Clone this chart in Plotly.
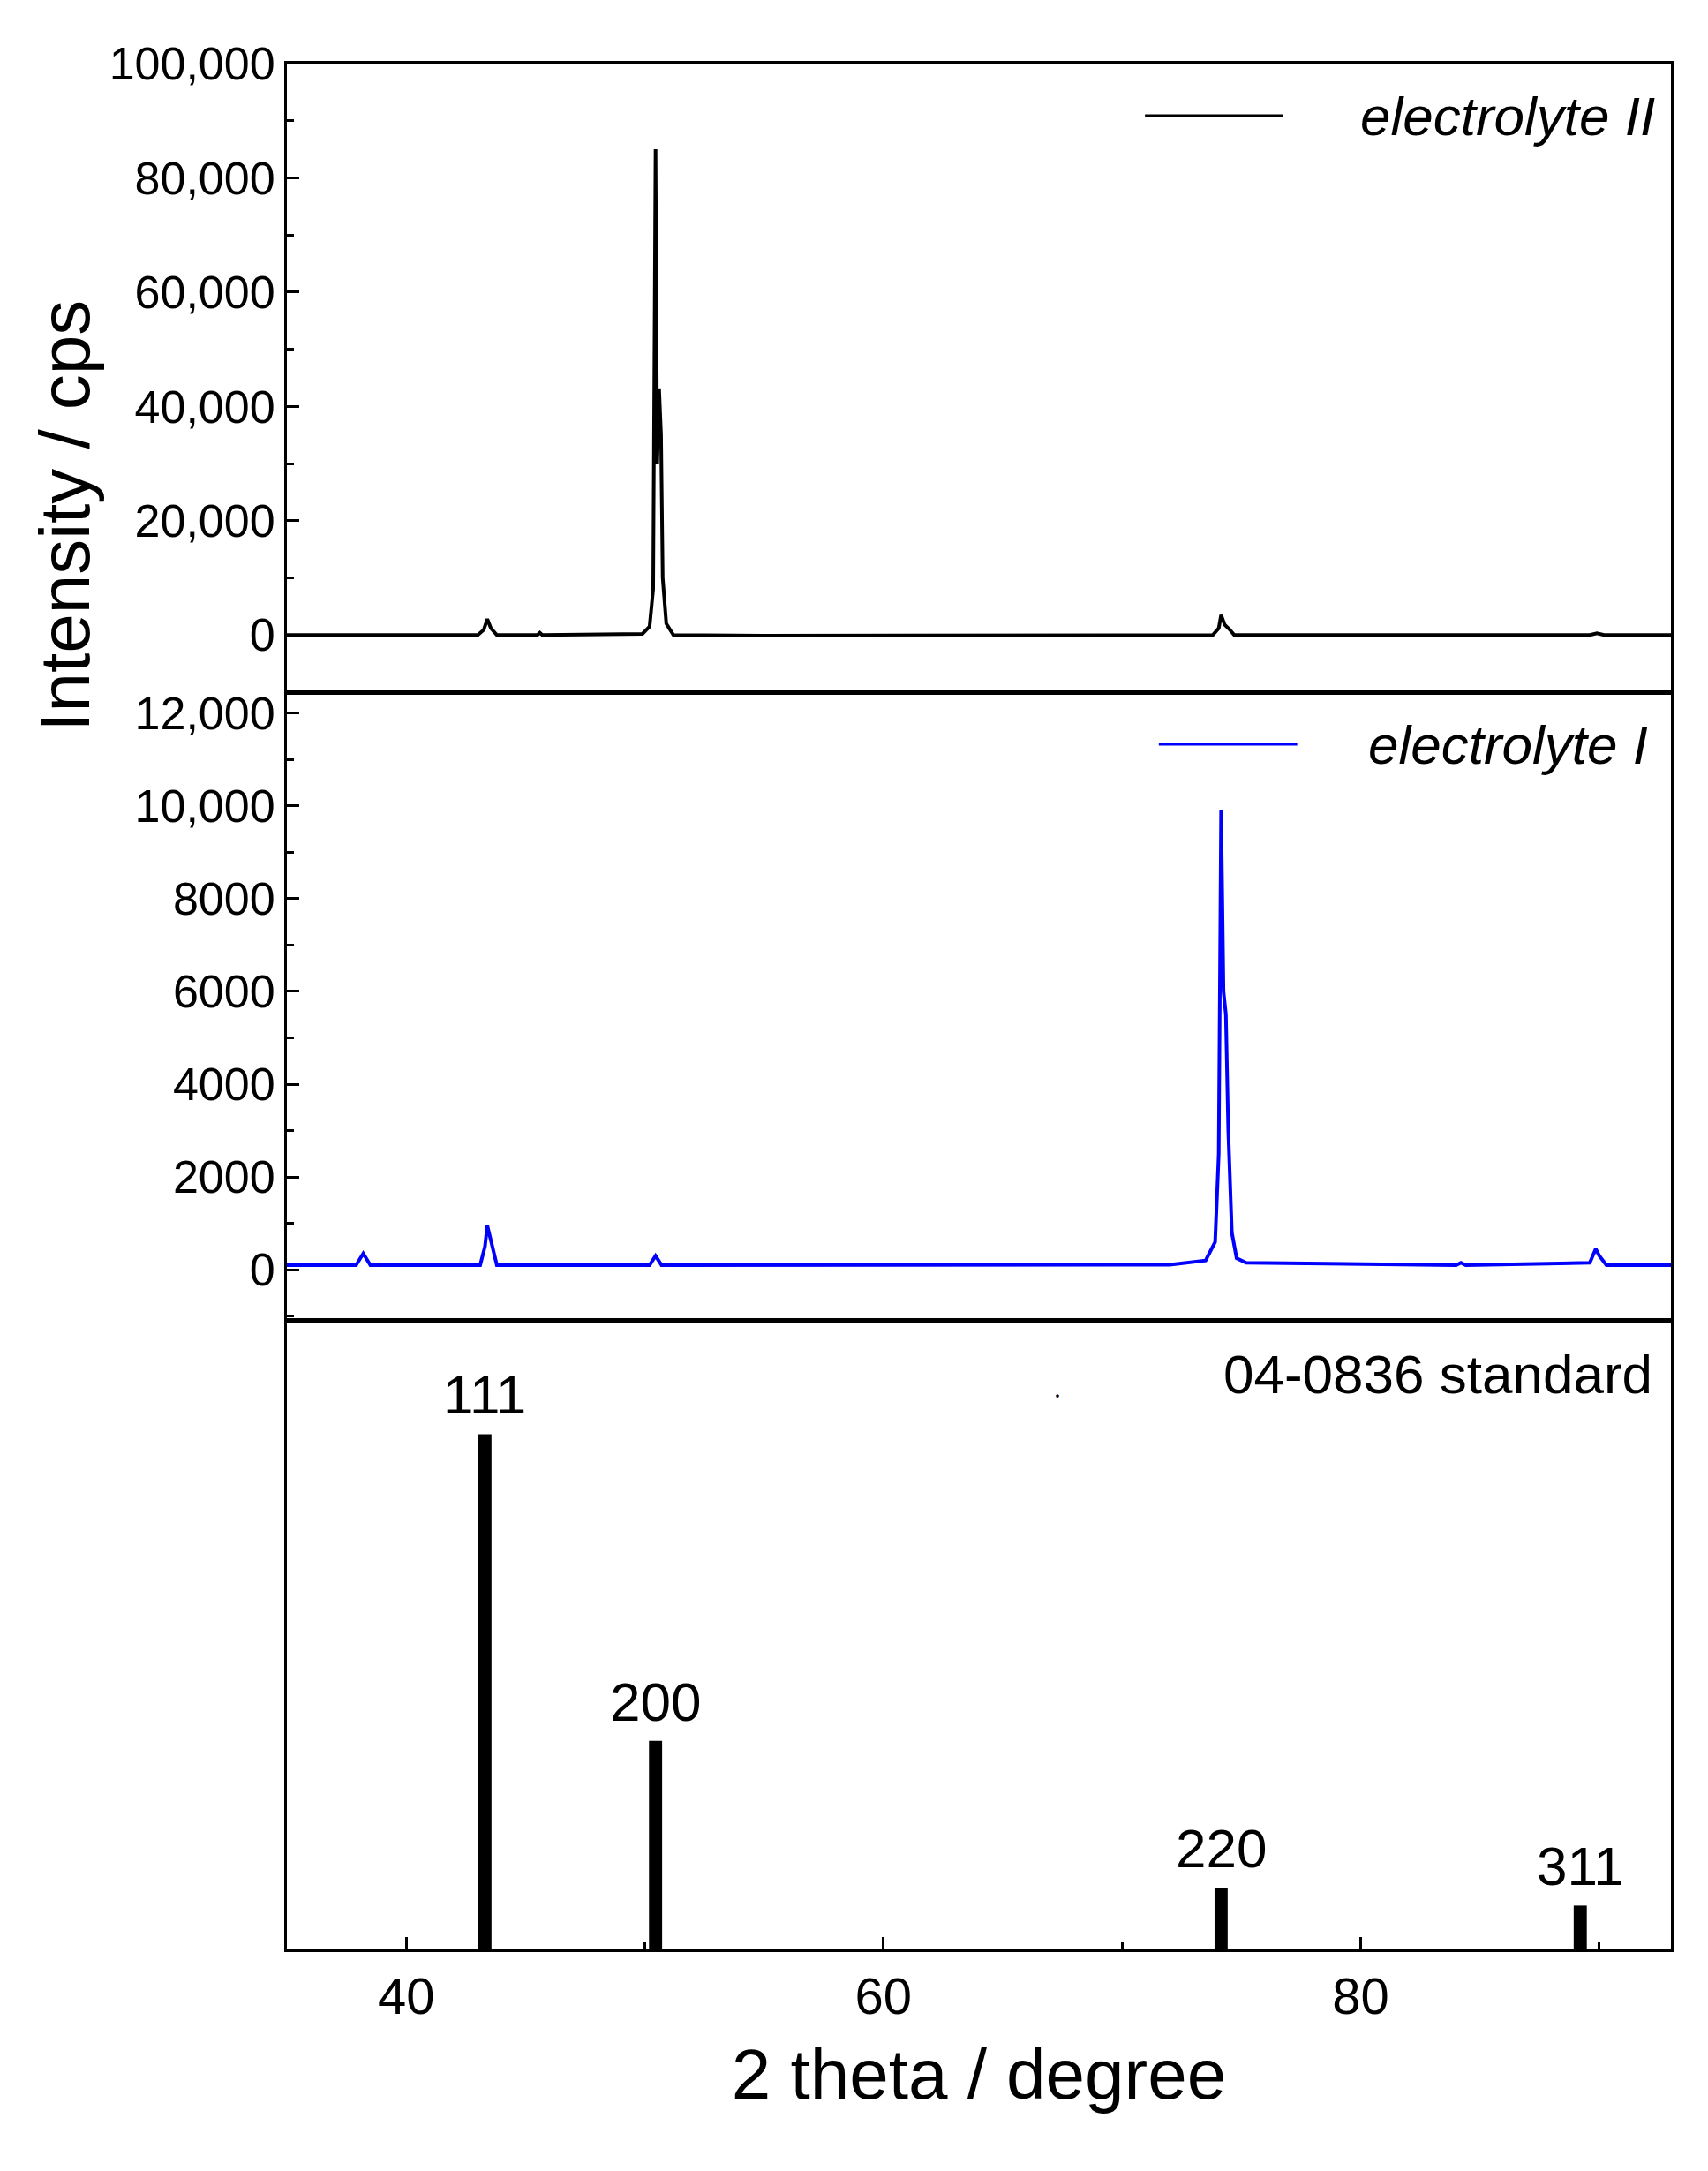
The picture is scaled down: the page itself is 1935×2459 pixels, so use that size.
import plotly.graph_objects as go
from plotly.subplots import make_subplots

# electrolyte II (top)
x2 = [35, 43.0, 43.25, 43.4, 43.55, 43.8, 45.5, 45.6, 45.7, 49.9, 50.2, 50.35, 50.45, 50.52, 50.6, 50.68, 50.75, 50.9, 51.2, 55, 73.8, 74.05, 74.15, 74.3, 74.5, 74.7, 89.6, 89.9, 90.2, 93]
y2 = [0, 0, 900, 2800, 1200, 0, 0, 400, 0, 200, 1500, 8000, 85000, 30000, 43000, 35000, 10000, 2000, 0, -100, 0, 1200, 3500, 1800, 1000, 0, 0, 300, 0, 0]

# electrolyte I (middle)
x1 = [35, 37.9, 38.2, 38.5, 43.1, 43.3, 43.4, 43.55, 43.8, 50.2, 50.45, 50.7, 72, 73.5, 73.9, 74.05, 74.15, 74.25, 74.35, 74.45, 74.6, 74.8, 75.2, 84, 84.2, 84.4, 89.6, 89.85, 90.0, 90.3, 93]
y1 = [100, 100, 350, 100, 100, 500, 950, 600, 100, 100, 300, 100, 110, 200, 600, 2500, 9900, 6000, 5500, 3000, 800, 250, 150, 100, 150, 100, 150, 450, 300, 100, 100]

# 04-0836 standard
std_x = [43.3, 50.45, 74.15, 89.2]
std_y = [100, 40.5, 12, 8.5]
std_labels = ["111", "200", "220", "311"]

xticks = [40, 60, 80]
top_ticks = [0, 20000, 40000, 60000, 80000, 100000]
top_labels = ["0", "20,000", "40,000", "60,000", "80,000", "100,000"]
mid_ticks = [0, 2000, 4000, 6000, 8000, 10000, 12000]
mid_labels = ["0", "2000", "4000", "6000", "8000", "10,000", "12,000"]

FONT = "Liberation Sans, Arial, sans-serif"

fig = make_subplots(rows=3, cols=1, shared_xaxes=True, vertical_spacing=0)
fig.add_trace(go.Scatter(x=x2, y=y2, mode="lines", line=dict(color="black", width=4)), row=1, col=1)
fig.add_trace(go.Scatter(x=x1, y=y1, mode="lines", line=dict(color="#0000ff", width=4)), row=2, col=1)
fig.add_trace(go.Bar(x=std_x, y=std_y, width=0.55, marker=dict(color="black", line=dict(width=0))), row=3, col=1)
for sx, sy, lab in zip(std_x, std_y, std_labels):
    fig.add_annotation(x=sx, y=sy, xref="x3", yref="y3", text=lab, showarrow=False,
                       yanchor="bottom", yshift=8, font=dict(size=62, family=FONT, color="black"))

axcommon = dict(showline=True, linecolor="black", linewidth=3, mirror=True,
                ticks="inside", tickwidth=3, ticklen=14, tickcolor="black",
                showgrid=False, zeroline=False, tickfont=dict(size=52, family=FONT, color="black"))
for r in (1, 2, 3):
    fig.update_xaxes(range=[35, 93], tickvals=xticks, showticklabels=(r == 3),
                     minor=dict(ticks="inside" if r == 3 else "", ticklen=8, tickwidth=3, dtick=10, tick0=0, tickcolor="black"),
                     row=r, col=1, **axcommon)
fig.update_xaxes(ticks="", row=1, col=1)
fig.update_xaxes(ticks="", row=2, col=1)
fig.update_xaxes(tickfont=dict(size=58, family=FONT, color="black"), row=3, col=1)
fig.update_yaxes(range=[-10000, 100000], tickvals=top_ticks, ticktext=top_labels,
                 minor=dict(ticks="inside", ticklen=8, tickwidth=3, dtick=10000, tickcolor="black"),
                 row=1, col=1, **axcommon)
fig.update_yaxes(range=[-1100, 12450], tickvals=mid_ticks, ticktext=mid_labels,
                 minor=dict(ticks="inside", ticklen=8, tickwidth=3, dtick=1000, tickcolor="black"),
                 row=2, col=1, **axcommon)
fig.update_yaxes(range=[0, 122], showticklabels=False, ticks="", row=3, col=1,
                 showline=True, linecolor="black", linewidth=3, mirror=True, showgrid=False, zeroline=False)

fig.update_xaxes(title=dict(text="2 theta / degree", font=dict(size=80, family=FONT, color="black"), standoff=30), row=3, col=1)

fig.add_shape(type="line", xref="x domain", yref="y domain", x0=0.62, x1=0.72, y0=0.917, y1=0.917,
              line=dict(color="black", width=3))
fig.add_annotation(xref="x domain", yref="y domain", x=0.99, y=0.917, text="<i>electrolyte II</i>",
                   showarrow=False, xanchor="right", yanchor="middle", font=dict(size=62, family=FONT, color="black"))
fig.add_shape(type="line", xref="x2 domain", yref="y2 domain", x0=0.63, x1=0.73, y0=0.917, y1=0.917,
              line=dict(color="#0000ff", width=3))
fig.add_annotation(xref="x2 domain", yref="y2 domain", x=0.985, y=0.917, text="<i>electrolyte I</i>",
                   showarrow=False, xanchor="right", yanchor="middle", font=dict(size=62, family=FONT, color="black"))
fig.add_annotation(xref="x3 domain", yref="y3 domain", x=0.988, y=0.915, text="04-0836 standard",
                   showarrow=False, xanchor="right", yanchor="middle", font=dict(size=62, family=FONT, color="black"))
fig.add_annotation(xref="x3 domain", yref="y3 domain", x=0.557, y=0.915, text="·",
                   showarrow=False, font=dict(size=30, color="black"))

fig.add_annotation(xref="paper", yref="paper", x=-0.16, y=0.76, text="Intensity / cps", textangle=-90,
                   showarrow=False, xanchor="center", yanchor="middle", font=dict(size=80, family=FONT, color="black"))

fig.update_layout(width=1935, height=2459, showlegend=False, plot_bgcolor="white", paper_bgcolor="white",
                  margin=dict(l=317, r=50, t=64, b=259))
fig.write_html("out.html")
